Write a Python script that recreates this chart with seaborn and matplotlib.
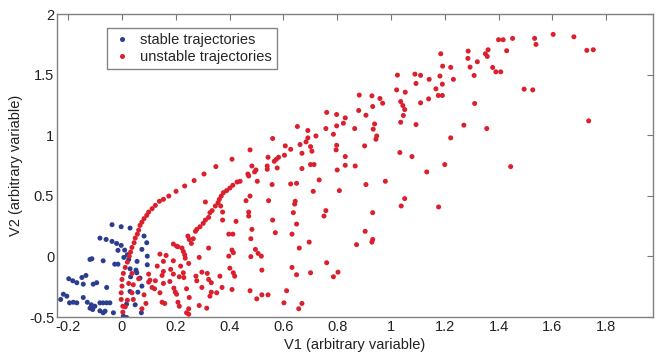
import numpy as np
import pandas as pd
import matplotlib
matplotlib.use("Agg")
import matplotlib.pyplot as plt
import seaborn as sns

# ---- data ----
stable_x = [-0.037, -0.003, 0.030, -0.082, -0.059, -0.037, -0.020, -0.003, 0.010, 0.020,
            0.082, 0.092, -0.112, -0.119, -0.070, -0.027, -0.015, 0.025, 0.094, 0.094,
            0.030, 0.052, -0.198, -0.183, -0.168, -0.144, -0.149, -0.107, -0.094, -0.057,
            0.055, 0.067, 0.032, -0.218, -0.205, -0.195, -0.181, -0.168, -0.144, -0.129,
            -0.114, -0.101, -0.082, -0.070, -0.057, -0.045, -0.082, -0.070, -0.063, -0.032,
            -0.119, -0.109, 0.030, 0.059, 0.074, 0.017, 0.049, 0.072, 0.005, 0.017,
            -0.228, -0.134, -0.015, 0.007, 0.056, 0.074]
stable_y = [0.262, 0.245, 0.234, 0.151, 0.140, 0.124, 0.107, 0.091, 0.052, 0.014,
            0.168, 0.113, -0.019, -0.025, -0.036, -0.064, -0.064, -0.025, 0.002, -0.069,
            -0.102, -0.113, -0.184, -0.201, -0.217, -0.229, -0.174, -0.229, -0.217, -0.256,
            -0.135, -0.179, -0.168, -0.312, -0.328, -0.383, -0.378, -0.383, -0.339, -0.378,
            -0.399, -0.411, -0.383, -0.383, -0.383, -0.383, -0.449, -0.465, -0.452, -0.465,
            -0.427, -0.438, -0.289, -0.295, -0.245, -0.394, -0.399, -0.465, -0.493, -0.504,
            -0.355, -0.157, 0.050, -0.008, -0.041, 0.058]

unstable_x = [
    # arc
    0.003, 0.003, -0.003, -0.003, 0.000, 0.000, 0.005, 0.012, 0.020, 0.027,
    0.032, 0.037, 0.045, 0.049, 0.057, 0.062, 0.067, 0.074, 0.082, 0.092,
    0.099, 0.112, 0.124, 0.139, 0.154, 0.174, 0.201, 0.233, 0.268, 0.305,
    0.349, 0.409,
    # upper envelope / middle
    0.476, 0.560, 0.652, 0.761, 0.882, 0.929, 0.959, 0.969, 0.932, 0.880,
    0.907, 0.939, 0.934, 0.947, 0.944, 0.902, 0.865, 0.867, 0.798, 0.830,
    0.798, 0.823, 0.758, 0.786, 0.798, 0.796, 0.830, 0.800, 0.830, 0.691,
    0.721, 0.691, 0.684, 0.662, 0.701, 0.706, 0.607, 0.627, 0.669, 0.701,
    0.714, 0.669, 0.582, 0.574, 0.566, 0.543, 0.540, 0.604, 0.540, 0.577,
    0.558, 0.483, 0.733, 0.627, 0.649, 0.907, 0.979, 0.711, 0.808, 0.545,
    0.644, 0.642, 0.637, 0.758, 0.751, 0.932, 0.560, 0.649, 0.904, 0.932,
    0.929, 0.570, 0.632, 0.696, 0.872, 0.659, 0.518, 0.761, 0.632, 0.520,
    0.701, 0.649, 0.803, 0.786, 0.612, 0.520, 0.543, 0.602, 0.669, 0.657,
    0.501,
    # right part
    1.185, 1.287, 1.286, 1.321, 1.351, 1.358, 1.361, 1.400, 1.417, 1.430,
    1.452, 1.534, 1.539, 1.603, 1.680, 1.728, 1.752, 1.735, 1.378, 1.390,
    1.408, 1.294, 1.309, 1.192, 1.222, 1.232, 1.182, 1.191, 1.167, 1.176,
    1.191, 1.142, 1.110, 1.089, 1.093, 1.053, 1.036, 1.044, 1.051, 1.046,
    1.036, 1.110, 1.140, 1.311, 1.495, 1.527, 1.093, 1.271, 1.356, 1.222,
    1.078, 1.200, 1.445, 1.033, 1.133, 1.051, 1.038, 1.177, 1.024, 1.021,
    # diagonal band and lower-left
    0.245, 0.250, 0.258, 0.265, 0.273, 0.278, 0.290, 0.302, 0.310, 0.322,
    0.327, 0.335, 0.347, 0.357, 0.362, 0.369, 0.377, 0.389, 0.401, 0.412,
    0.428, 0.439, 0.471, 0.468, 0.493, 0.498, 0.503, 0.367, 0.374, 0.374,
    0.397, 0.471, 0.471, 0.483, 0.479, 0.409, 0.397, 0.322, 0.287, 0.203,
    0.223, 0.228, 0.233, 0.235, 0.248, 0.218, 0.164, 0.191, 0.131, 0.154,
    0.191, 0.213, 0.230, 0.297, 0.317, 0.401, 0.414, 0.419, 0.104, 0.121,
    0.141, 0.178, 0.198, 0.203, 0.240, 0.297, 0.332, 0.327, 0.372, 0.149,
    0.159, 0.248, 0.248, 0.287, 0.315, 0.409, 0.479, 0.496, 0.506, 0.461,
    0.476, 0.310, 0.476,
    0.141, 0.191, 0.208, 0.154, 0.181, 0.228, 0.099, 0.099, 0.112, 0.124,
    0.149, 0.154, 0.193, 0.208, 0.213, 0.250, 0.240, 0.082, 0.089, 0.074,
    0.042, 0.037, 0.020, 0.012, 0.042, 0.025, 0.037, 0.062, 0.275, 0.278,
    0.322, 0.332, 0.364, 0.352, 0.414, 0.412, 0.424]
unstable_y = [
    -0.460, -0.411, -0.355, -0.300, -0.245, -0.190, -0.140, -0.091, -0.047, 0.002,
    0.036, 0.074, 0.113, 0.151, 0.184, 0.217, 0.256, 0.283, 0.312, 0.339,
    0.366, 0.394, 0.421, 0.455, 0.471, 0.498, 0.537, 0.581, 0.626, 0.680,
    0.741, 0.802,
    0.879, 0.973, 1.072, 1.188, 1.331, 1.325, 1.303, 1.264, 1.237, 1.204,
    1.165, 1.093, 1.050, 0.994, 0.967, 0.912, 1.055, 0.746, 1.171, 1.143,
    1.077, 1.099, 1.055, 1.008, 0.917, 0.879, 0.824, 0.713, 0.752, 1.039,
    0.994, 0.978, 0.945, 0.923, 0.906, 0.868, 0.912, 0.884, 0.851, 0.758,
    0.758, 0.725, 0.818, 0.802, 0.785, 0.818, 0.746, 0.835, 0.719, 0.730,
    0.593, 0.746, 0.631, 0.598, 0.603, 0.593, 0.620, 0.537, 0.543, 0.460,
    0.455, 0.432, 0.361, 0.378, 0.333, 0.361, 0.300, 0.267, 0.207, 0.140,
    0.118, 0.196, 0.184, 0.118, 0.097, 0.069, 0.002, -0.052, -0.091, -0.113,
    -0.135, -0.151, -0.130, -0.168, -0.283, -0.317, -0.317, -0.383, -0.388, -0.432,
    -0.350,
    1.672, 1.694, 1.634, 1.606, 1.672, 1.650, 1.705, 1.788, 1.788, 1.697,
    1.799, 1.799, 1.749, 1.832, 1.812, 1.700, 1.705, 1.118, 1.559, 1.523,
    1.523, 1.562, 1.493, 1.570, 1.560, 1.461, 1.488, 1.421, 1.383, 1.328,
    1.328, 1.461, 1.494, 1.504, 1.427, 1.355, 1.278, 1.245, 1.212, 1.163,
    1.107, 1.267, 1.300, 1.262, 1.380, 1.374, 1.088, 1.083, 1.055, 0.978,
    0.824, 0.758, 0.741, 0.857, 0.697, 0.477, 0.416, 0.408, 1.496, 1.374,
    0.168, 0.140, 0.107, 0.146, 0.207, 0.223, 0.245, 0.273, 0.300, 0.322,
    0.361, 0.378, 0.416, 0.444, 0.471, 0.498, 0.526, 0.543, 0.564, 0.587,
    0.614, 0.620, 0.664, 0.680, 0.697, 0.713, 0.620, 0.416, 0.366, 0.300,
    0.184, 0.366, 0.333, 0.223, 0.146, 0.052, 0.002, 0.069, -0.008, 0.085,
    0.069, 0.041, 0.014, -0.014, -0.058, -0.080, 0.008, -0.036, -0.080, -0.124,
    -0.146, -0.168, -0.174, -0.130, -0.140, -0.097, -0.135, -0.163, -0.196, -0.267,
    -0.300, -0.207, -0.295, -0.312, -0.267, -0.256, -0.295, -0.328, -0.256, -0.378,
    -0.388, -0.432, -0.477, -0.405, -0.427, -0.273, -0.002, 0.058, 0.025, 0.460,
    0.498, 0.449, -0.283,
    0.019, 0.102, 0.080, -0.041, -0.107, -0.135, -0.146, -0.212, -0.256, -0.201,
    -0.157, -0.223, -0.262, -0.378, -0.411, -0.339, -0.465, -0.317, -0.388, -0.432,
    -0.355, -0.300, -0.361, -0.416, -0.234, -0.223, -0.140, -0.184, -0.163, -0.201,
    -0.190, -0.217, -0.163, -0.300, 0.031, 0.184, 0.289]

labels = ["stable trajectories", "unstable trajectories"]
x_ticks = [-0.2, 0, 0.2, 0.4, 0.6, 0.8, 1, 1.2, 1.4, 1.6, 1.8]
x_ticklabels = ["-0.2", "0", "0.2", "0.4", "0.6", "0.8", "1", "1.2", "1.4", "1.6", "1.8"]
y_ticks = [-0.5, 0, 0.5, 1, 1.5, 2]
y_ticklabels = ["-0.5", "0", "0.5", "1", "1.5", "2"]

df = pd.DataFrame({
    "V1": stable_x + unstable_x,
    "V2": stable_y + unstable_y,
    "type": [labels[0]] * len(stable_x) + [labels[1]] * len(unstable_x),
})

sns.set_style("white")
plt.rcParams["font.family"] = ["Liberation Sans", "DejaVu Sans"]

fig = plt.figure(figsize=(6.56, 3.55), dpi=100)
ax = fig.add_axes([0.0869, 0.107, 0.9085, 0.8535])

sns.scatterplot(data=df, x="V1", y="V2", hue="type",
                palette={labels[0]: "#2b3d8f", labels[1]: "#dc1f2c"},
                s=13, edgecolor="none", linewidth=0, ax=ax, legend=True)

ax.set_xlim(-0.2416, 1.974)
ax.set_ylim(-0.5, 2.0)
ax.set_xticks(x_ticks)
ax.set_xticklabels(x_ticklabels)
ax.set_yticks(y_ticks)
ax.set_yticklabels(y_ticklabels)
ax.tick_params(direction="in", length=4, width=0.8, color="#777777",
               labelsize=10.5, top=True, right=True, pad=2, labelcolor="#222222")
for sp in ax.spines.values():
    sp.set_color("#808080")
    sp.set_linewidth(1.0)

ax.set_xlabel("V1 (arbitrary variable)", fontsize=10.5, color="#222222", labelpad=3)
ax.set_ylabel("V2 (arbitrary variable)", fontsize=10.5, color="#222222", labelpad=4)

leg = ax.legend(loc="upper left", bbox_to_anchor=(0.084, 0.954), borderaxespad=0,
                fontsize=10.5, frameon=True, fancybox=False, edgecolor="#666666",
                handletextpad=0.5, borderpad=0.35, labelspacing=0.2,
                handlelength=1.4, markerscale=1.0)
leg.get_frame().set_linewidth(1.0)

fig.savefig("out.png", dpi=100)
